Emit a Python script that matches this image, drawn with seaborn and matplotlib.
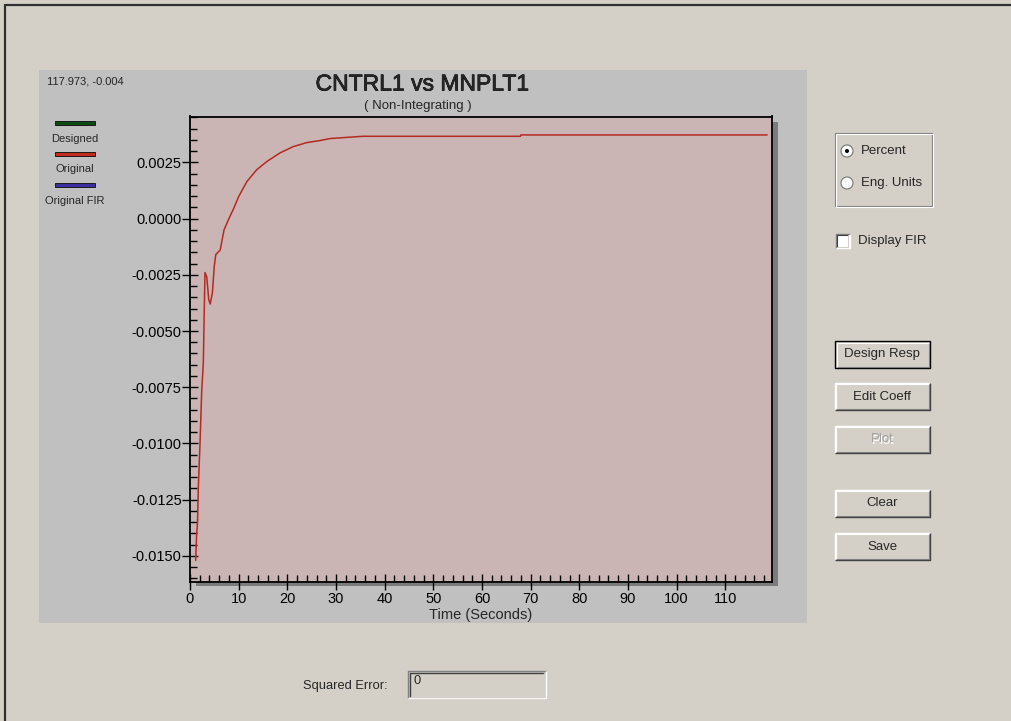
import numpy as np
import pandas as pd
import seaborn as sns
import matplotlib.pyplot as plt
import matplotlib.patheffects as pe
from matplotlib.patches import Rectangle, Circle
from matplotlib.ticker import MultipleLocator, FormatStrFormatter

# risposta (tempo in secondi)
time_s = [1.17, 1.35, 1.55, 1.7, 2.06, 2.4, 2.74, 2.93, 3.08, 3.45, 3.85, 4.15,
          4.6, 5.0, 5.3, 6.2, 7.0, 8.0, 9.0, 10.0, 11.7, 13.7, 15.8, 18.5,
          21.2, 24.0, 26.7, 28.8, 31.5, 35.5, 67.9, 68.0, 118.6]
response = [-0.0152, -0.0141, -0.0135, -0.0120, -0.0100, -0.0077, -0.0064, -0.0041,
            -0.0024, -0.0026, -0.0036, -0.0038, -0.0033, -0.0021, -0.0016, -0.0014,
            -0.0005, 0.0, 0.00046, 0.00098, 0.00165, 0.00217, 0.00254, 0.00292,
            0.0032, 0.00338, 0.00347, 0.00356, 0.0036, 0.00366, 0.00366, 0.00372, 0.00372]

legend_names = ['Designed', 'Original', 'Original FIR']
legend_colors = ['#0c4a14', '#c42a1c', '#3b2ea0']
buttons = ['Design Resp', 'Edit Coeff', 'Plot', 'Clear', 'Save']
radio_labels = ['Percent', 'Eng. Units']

title = 'CNTRL1 vs MNPLT1'
subtitle = '( Non-Integrating )'
cursor_text = '117.973, -0.004'

sns.set_style('ticks')
plt.rcParams['font.family'] = ['Liberation Sans', 'DejaVu Sans']
plt.rcParams['axes.unicode_minus'] = False

W, H = 1011, 721
DLG = '#d4d0c8'
fig = plt.figure(figsize=(W / 100, H / 100), dpi=100, facecolor=DLG)

# asse di sfondo in pixel per la finestra di dialogo
bg = fig.add_axes([0, 0, 1, 1])
bg.set_xlim(0, W)
bg.set_ylim(H, 0)
bg.axis('off')

# bordo finestra
bg.plot([4.5, W], [5, 5], color='#303030', lw=1.6, solid_capstyle='butt')
bg.plot([4.5, 4.5], [4.4, H], color='#303030', lw=1.6, solid_capstyle='butt')

# pannello grigio del grafico
bg.add_patch(Rectangle((39, 70), 768, 553, facecolor='#c0c0c0', edgecolor='none'))
# ombra dell'area del grafico
bg.add_patch(Rectangle((196, 122), 582, 464, facecolor='#7c7c7c', edgecolor='none'))

bg.text(47, 81, cursor_text, fontsize=8, ha='left', va='center')
bg.text(422, 84, title, fontsize=16.5, ha='center', va='center',
        path_effects=[pe.withStroke(linewidth=0.5, foreground='black')])
bg.text(418, 106.5, subtitle, fontsize=9.5, ha='center', va='center')

# legenda
for i, (name, col) in enumerate(zip(legend_names, legend_colors)):
    y = 123 + i * 31
    bg.add_patch(Rectangle((54.5, y - 2), 40, 4, facecolor=col, edgecolor='#1a1a1a', lw=0.7))
    bg.text(74.5, y + 15.5, name, fontsize=8, ha='center', va='center')

# area del grafico
L, T, R, B = 190, 116.5, 772, 581.5
ax = fig.add_axes([L / W, 1 - B / H, (R - L) / W, (B - T) / H])
ax.set_facecolor('#cbb4b4')
sns.lineplot(x=time_s, y=response, ax=ax, color='#b32a22', linewidth=1.1, legend=False)
ax.set_xlim(0, 119.6)
ax.set_ylim(-0.01614, 0.00454)
ax.xaxis.set_major_locator(MultipleLocator(10))
ax.xaxis.set_minor_locator(MultipleLocator(2))
ax.yaxis.set_major_locator(MultipleLocator(0.0025))
ax.yaxis.set_minor_locator(MultipleLocator(0.0005))
ax.yaxis.set_major_formatter(FormatStrFormatter('%.4f'))
ax.tick_params(which='major', direction='inout', length=11, width=1, color='black',
               labelsize=10.5, labelcolor='black')
ax.tick_params(which='minor', direction='in', length=5, width=1, color='black')
ax.tick_params(axis='y', which='major', pad=0.5)
ax.tick_params(axis='x', which='major', pad=2)
for s in ax.spines.values():
    s.set_visible(True)
    s.set_color('black')
    s.set_linewidth(1.3)
ax.set_xlabel('Time (Seconds)', fontsize=10.5, labelpad=1.5)
ax.set_ylabel('')


def bevel(x0, y0, x1, y1, light, dark, lw=0.8):
    bg.plot([x0, x0, x1], [y1, y0, y0], color=light, lw=lw, solid_capstyle='butt')
    bg.plot([x0, x1, x1], [y1, y1, y0], color=dark, lw=lw, solid_capstyle='butt')


# gruppo radio
bg.add_patch(Rectangle((834.5, 132.5), 97, 73.5, facecolor='none', edgecolor='#808080', lw=0.8))
bg.add_patch(Rectangle((835.5, 133.5), 97, 73.5, facecolor='none', edgecolor='white', lw=0.8))
for i, lab in enumerate(radio_labels):
    cy = 151 + i * 32
    bg.add_patch(Circle((847, cy), 6, facecolor='white', edgecolor='#808080', lw=0.9))
    if i == 0:
        bg.add_patch(Circle((847, cy), 2, facecolor='black', edgecolor='none'))
    bg.text(861, cy, lab, fontsize=9.5, ha='left', va='center')

# checkbox
bg.add_patch(Rectangle((835.5, 234), 14, 14, facecolor='white', edgecolor='none'))
bevel(835.5, 234, 849.5, 248, '#808080', 'white', lw=1.0)
bevel(836.8, 235.3, 848.2, 246.7, '#404040', '#d4d0c8', lw=0.8)
bg.text(858, 241, 'Display FIR', fontsize=9.5, ha='left', va='center')

# pulsanti
btn_tops = [341, 383, 426, 490, 533]
for lab, top in zip(buttons, btn_tops):
    x0, x1, y0, y1 = 835, 930, top, top + 27
    bg.add_patch(Rectangle((x0, y0), x1 - x0, y1 - y0, facecolor=DLG, edgecolor='none'))
    if lab == 'Design Resp':
        bg.add_patch(Rectangle((x0, y0), x1 - x0, y1 - y0, facecolor='none', edgecolor='black', lw=1.0))
        bevel(x0 + 1.5, y0 + 1.5, x1 - 1.5, y1 - 1.5, 'white', '#808080')
    else:
        bevel(x0, y0, x1, y1, 'white', '#404040', lw=1.0)
        bevel(x0 + 1, y0 + 1, x1 - 1.2, y1 - 1.2, 'white', '#808080')
    if lab == 'Plot':
        bg.text(883, top + 14.5, lab, fontsize=9.5, ha='center', va='center', color='white')
        bg.text(882, top + 13.5, lab, fontsize=9.5, ha='center', va='center', color='#a0a0a0')
    else:
        bg.text(882, top + 13.5, lab, fontsize=9.5, ha='center', va='center')

# errore quadratico
bg.text(388, 686, 'Squared Error:', fontsize=9.3, ha='right', va='center')
bevel(408, 671, 545.5, 698, '#808080', 'white', lw=1.0)
bevel(409.5, 672.5, 544, 696.5, '#404040', DLG, lw=1.0)
bg.text(413, 675, '0', fontsize=9.3, ha='left', va='top')

plt.savefig('out.png', dpi=100, facecolor=DLG)
